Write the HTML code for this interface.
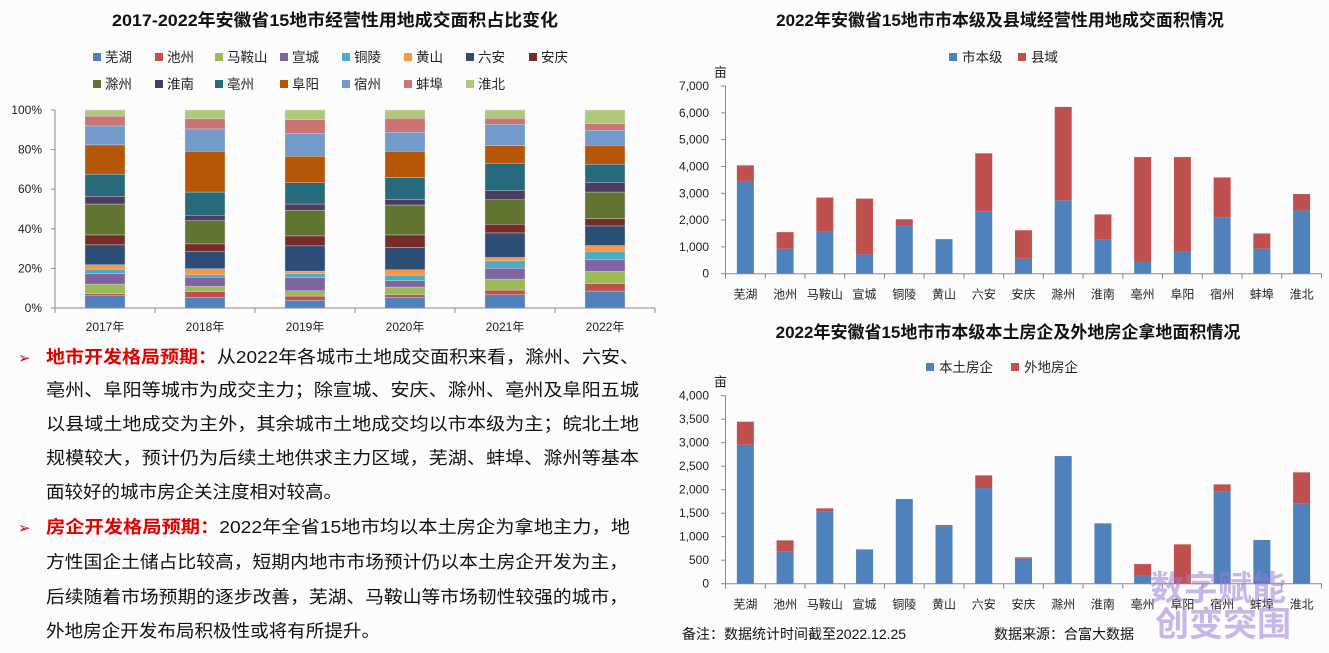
<!DOCTYPE html>
<html><head><meta charset="utf-8"><style>
html,body{margin:0;padding:0;background:#fff;}
svg{display:block;font-family:"Liberation Sans","Noto Sans CJK SC",sans-serif;}
</style></head><body>
<svg id="s" width="1329" height="653" viewBox="0 0 1329 653" xmlns="http://www.w3.org/2000/svg">
<rect width="1329" height="653" fill="#fcfcfc"/>
<text x="335" y="26" text-anchor="middle" font-size="17" font-weight="bold" fill="#111" textLength="446" lengthAdjust="spacingAndGlyphs">2017-2022年安徽省15地市经营性用地成交面积占比变化</text>
<text x="1000" y="26" text-anchor="middle" font-size="17" font-weight="bold" fill="#111">2022年安徽省15地市市本级及县域经营性用地成交面积情况</text>
<text x="1008" y="338" text-anchor="middle" font-size="17" font-weight="bold" fill="#111">2022年安徽省15地市市本级本土房企及外地房企拿地面积情况</text>
<g id="g"></g>
<g font-size="17.5" fill="#111">
<text x="18" y="363" fill="#e00000" font-size="15">➢</text>
<text x="46" y="363" textLength="593" lengthAdjust="spacingAndGlyphs"><tspan fill="#e00000" font-weight="bold">地市开发格局预期：</tspan>从2022年各城市土地成交面积来看，滁州、六安、</text>
<text x="46" y="396" textLength="593" lengthAdjust="spacingAndGlyphs">亳州、阜阳等城市为成交主力；除宣城、安庆、滁州、亳州及阜阳五城</text>
<text x="46" y="430" textLength="593" lengthAdjust="spacingAndGlyphs">以县域土地成交为主外，其余城市土地成交均以市本级为主；皖北土地</text>
<text x="46" y="464" textLength="593" lengthAdjust="spacingAndGlyphs">规模较大，预计仍为后续土地供求主力区域，芜湖、蚌埠、滁州等基本</text>
<text x="46" y="498" textLength="296" lengthAdjust="spacingAndGlyphs">面较好的城市房企关注度相对较高。</text>
<text x="18" y="533" fill="#e00000" font-size="15">➢</text>
<text x="46" y="533" textLength="584" lengthAdjust="spacingAndGlyphs"><tspan fill="#e00000" font-weight="bold">房企开发格局预期：</tspan>2022年全省15地市均以本土房企为拿地主力，地</text>
<text x="46" y="568" textLength="582" lengthAdjust="spacingAndGlyphs">方性国企土储占比较高，短期内地市市场预计仍以本土房企开发为主，</text>
<text x="46" y="603" textLength="582" lengthAdjust="spacingAndGlyphs">后续随着市场预期的逐步改善，芜湖、马鞍山等市场韧性较强的城市，</text>
<text x="46" y="637" textLength="334" lengthAdjust="spacingAndGlyphs">外地房企开发布局积极性或将有所提升。</text>
</g>
<text x="682" y="639" font-size="14" fill="#111">备注：数据统计时间截至2022.12.25</text>
<text x="994" y="639" font-size="14" fill="#111">数据来源：合富大数据</text>
<g fill="#9b7fd6" opacity="0.55" font-size="34" font-weight="bold">
<text x="1150" y="600">数字赋能</text>
<text x="1155" y="636">创变突围</text>
</g>
</svg>
<script>
var NS="http://www.w3.org/2000/svg",g=document.getElementById("g");
function el(t,a,txt){var e=document.createElementNS(NS,t);for(var k in a)e.setAttribute(k,a[k]);if(txt!=null)e.textContent=txt;g.appendChild(e);return e;}
var cols=["#4f81bd","#c0504d","#9bbb59","#8064a2","#4bacc6","#f79646","#2c4d75","#772c2a","#5f7530","#4d3b62","#276a7c","#b65708","#729aca","#cd7371","#afc97a"];
var names=["芜湖","池州","马鞍山","宣城","铜陵","黄山","六安","安庆","滁州","淮南","亳州","阜阳","宿州","蚌埠","淮北"];
var lx=[93,155,215,280,342,404,466,529];
for(var i=0;i<15;i++){var r=i<8?0:1,c=i<8?i:i-8;var y=r?84:57;
el("rect",{x:lx[c],y:y-4,width:8,height:8,fill:cols[i]});
el("text",{x:lx[c]+12,y:y+5,"font-size":13.5,fill:"#222"},names[i]);}
var b=[[654,617,611,582,551,537,524,464,434,341,318,251,163,106,77,58],
[654,622,605,589,561,554,536,483,461,391,375,305,182,115,84,58],
[654,631,618,602,563,551,543,467,437,360,341,277,197,129,87,58],
[654,622,614,591,572,555,539,472,434,344,327,261,182,125,83,58],
[654,614,600,567,534,512,502,428,402,328,301,218,165,101,83,58],
[654,603,581,544,509,483,466,407,385,305,277,221,164,119,99,58]];
var y0=308,y1=110;
function ly(z){return y0-(654-z)/596*(y0-y1);}
for(var j=0;j<6;j++){var cx=105+100*j;
for(var i=0;i<15;i++){var a=ly(b[j][i]),c=ly(b[j][i+1]);
el("rect",{x:cx-20,y:c,width:40,height:a-c,fill:cols[i],stroke:"#ddd","stroke-width":0.4});}
el("text",{x:cx,y:331,"text-anchor":"middle","font-size":12,fill:"#222"},(2017+j)+"年");}
for(var k=0;k<=5;k++){var yy=y0-k*(y0-y1)/5;el("text",{x:42,y:yy+4,"text-anchor":"end","font-size":12,fill:"#222"},(k*20)+"%");
el("line",{x1:51,x2:55,y1:yy,y2:yy,stroke:"#888"});}
el("line",{x1:55,x2:55,y1:y1,y2:y0,stroke:"#888"});
el("line",{x1:55,x2:655,y1:y0,y2:y0,stroke:"#888"});
for(var j=0;j<=6;j++)el("line",{x1:55+100*j,x2:55+100*j,y1:y0,y2:y0+5,stroke:"#888"});
function bar(data,z,top,max,step,c1,c2){
var ax=725.5,w=39.73,h=z-top;
for(var i=0;i<15;i++){var cx=ax+w*(i+.5);var v1=data[i][0],v2=data[i][1];
var yb=z-v1/max*h,yt=z-v2/max*h;
if(v1>0)el("rect",{x:cx-8.5,y:yb,width:17,height:z-yb,fill:c1});
if(v2>v1)el("rect",{x:cx-8.5,y:yt,width:17,height:yb-yt,fill:c2});
el("text",{x:cx,y:z+25,"text-anchor":"middle","font-size":12,fill:"#222"},names[i]);}
for(var v=0;v<=max;v+=step){var yy=z-v/max*h;el("text",{x:709,y:yy+4,"text-anchor":"end","font-size":12,fill:"#222"},v.toLocaleString("en-US"));
el("line",{x1:721,x2:725.5,y1:yy,y2:yy,stroke:"#888"});}
el("line",{x1:ax,x2:ax,y1:top,y2:z,stroke:"#888"});
el("line",{x1:ax,x2:1322,y1:z,y2:z,stroke:"#888"});
for(var i=0;i<=15;i++)el("line",{x1:ax+w*i,x2:ax+w*i,y1:z,y2:z+5,stroke:"#888"});
el("text",{x:714,y:top-9,"font-size":13,fill:"#222"},"亩");}
bar([[3460,4040],[930,1550],[1590,2840],[720,2800],[1800,2030],[1260,1290],[2330,4490],[560,1620],[2740,6220],[1280,2210],[435,4350],[830,4350],[2110,3590],[930,1500],[2360,2970]],273.7,86,7000,1000,"#4f81bd","#c0504d");
bar([[2957,3447],[688,922],[1539,1603],[730,730],[1801,1801],[1220,1248],[2035,2305],[532,560],[2716,2716],[1284,1284],[184,418],[0,837],[1957,2113],[929,929],[1702,2369]],583.7,395.7,4000,500,"#4f81bd","#c0504d");
el("rect",{x:949,y:53,width:8,height:8,fill:"#4f81bd"});el("text",{x:962,y:62,"font-size":13.5,fill:"#222"},"市本级");
el("rect",{x:1018,y:53,width:8,height:8,fill:"#c0504d"});el("text",{x:1031,y:62,"font-size":13.5,fill:"#222"},"县域");
el("rect",{x:926,y:363,width:8,height:8,fill:"#4f81bd"});el("text",{x:939,y:372,"font-size":13.5,fill:"#222"},"本土房企");
el("rect",{x:1011,y:363,width:8,height:8,fill:"#c0504d"});el("text",{x:1024,y:372,"font-size":13.5,fill:"#222"},"外地房企");
</script>
</body></html>
